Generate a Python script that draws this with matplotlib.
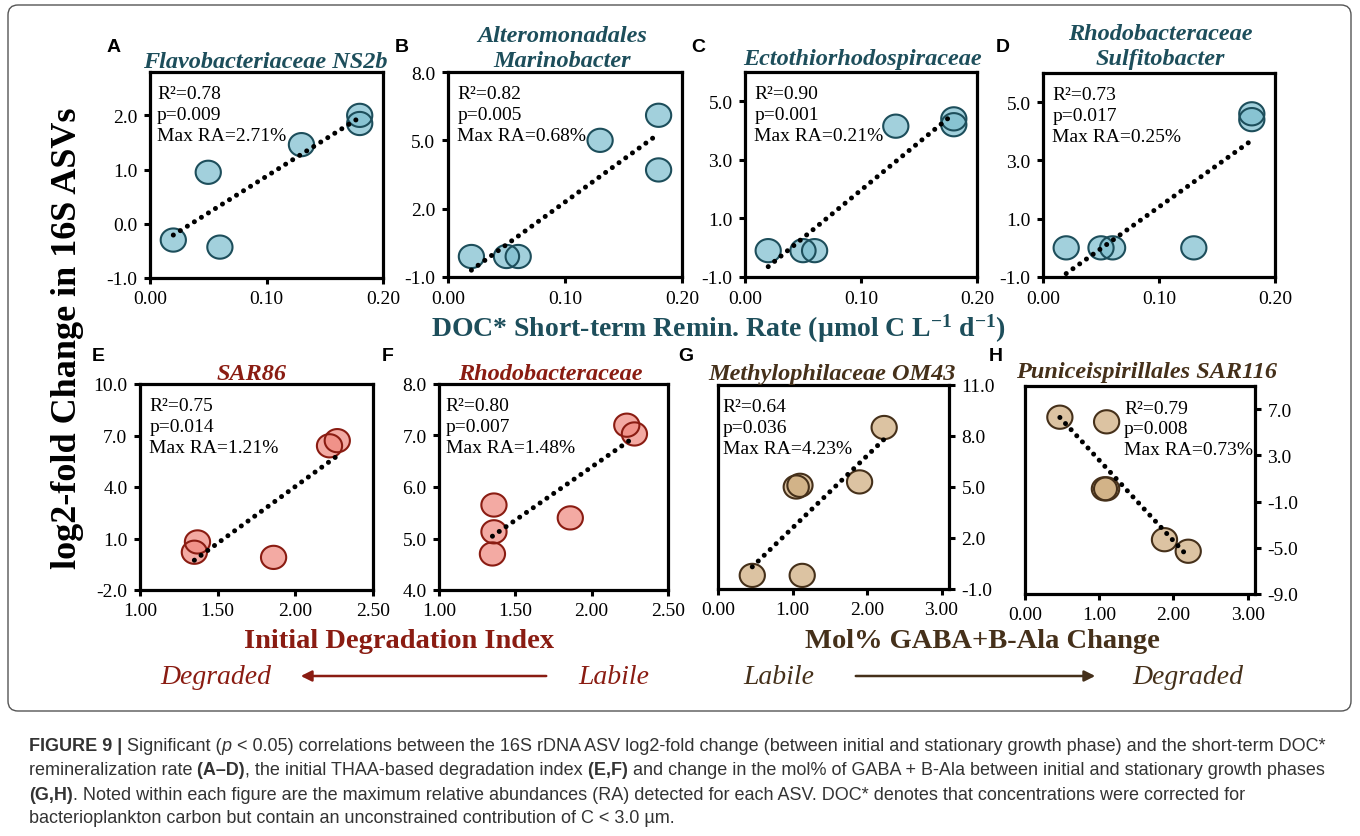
import numpy as np
import matplotlib
matplotlib.use('Agg')
import matplotlib.pyplot as plt
from matplotlib.patches import FancyBboxPatch
from matplotlib.path import Path

plt.rcParams['font.family'] = 'Liberation Serif'
plt.rcParams['mathtext.fontset'] = 'custom'
plt.rcParams['mathtext.rm'] = 'Liberation Serif'
plt.rcParams['mathtext.bf'] = 'Liberation Serif:bold'
plt.rcParams['mathtext.it'] = 'Liberation Serif:italic'

W, H = 1360, 837

# ---- data ----
doc_rate = [0.02, 0.05, 0.06, 0.13, 0.18, 0.18]
a_fold = [-0.3, 0.95, -0.43, 1.46, 2.0, 1.85]
b_fold = [-0.1, -0.1, -0.1, 5.0, 6.1, 3.7]
c_fold = [-0.1, -0.1, -0.1, 4.15, 4.4, 4.2]
d_fold = [0.0, 0.0, 0.0, 0.0, 4.6, 4.4]

e_index = [1.35, 1.37, 1.86, 2.22, 2.27]
e_fold = [0.2, 0.8, -0.1, 6.4, 6.7]
f_index = [1.36, 1.36, 1.35, 1.86, 2.23, 2.28]
f_fold = [5.65, 5.13, 4.7, 5.4, 7.2, 7.03]

g_gaba = [0.46, 1.13, 1.05, 1.1, 1.9, 2.23]
g_fold = [-0.2, -0.2, 5.0, 5.1, 5.3, 8.5]
h_gaba = [0.47, 1.1, 1.07, 1.1, 1.88, 2.2]
h_fold = [6.3, 5.9, 0.1, 0.1, -4.3, -5.3]

stats = ["R²=0.78\np=0.009\nMax RA=2.71%", "R²=0.82\np=0.005\nMax RA=0.68%",
         "R²=0.90\np=0.001\nMax RA=0.21%", "R²=0.73\np=0.017\nMax RA=0.25%",
         "R²=0.75\np=0.014\nMax RA=1.21%", "R²=0.80\np=0.007\nMax RA=1.48%",
         "R²=0.64\np=0.036\nMax RA=4.23%", "R²=0.79\np=0.008\nMax RA=0.73%"]
titles = ["Flavobacteriaceae NS2b", "Alteromonadales\nMarinobacter",
          "Ectothiorhodospiraceae", "Rhodobacteraceae\nSulfitobacter",
          "SAR86", "Rhodobacteraceae", "Methylophilaceae OM43",
          "Puniceispirillales SAR116"]
letters = ["A", "B", "C", "D", "E", "F", "G", "H"]

# colours
teal, teal_fill = '#1d4e5b', '#7fbfcf'
red, red_fill = '#8a1c12', '#ef8a80'
brown, brown_fill = '#45301a', '#cfad7e'

fig = plt.figure(figsize=(W / 100, H / 100), dpi=100)

# outer rounded frame
frame = FancyBboxPatch((8, H - 712), 1343, 706, boxstyle='round,pad=0,rounding_size=10',
                       transform=None, fill=False, ec='#555555', lw=1.0)
fig.patches.append(frame)

# slightly flattened circle, like the original markers
t = np.linspace(0, 2 * np.pi, 64)
ellipse = Path(np.column_stack([np.cos(t), 0.92 * np.sin(t)]), closed=True)


def px_axes(l, r, t, b):
    return fig.add_axes([l / W, 1 - b / H, (r - l) / W, (b - t) / H])


panels = [
    # x, y, box(l, r, t, b), xlim, xticks, ylim, yticks, colours, right axis, stats x
    (doc_rate, a_fold, (150, 383, 73, 279), (0, 0.2), [0, 0.1, 0.2], (-1, 2.8), [-1, 0, 1, 2], teal, teal_fill, False, 0.03),
    (doc_rate, b_fold, (448, 682, 73, 278), (0, 0.2), [0, 0.1, 0.2], (-1, 8), [-1, 2, 5, 8], teal, teal_fill, False, 0.04),
    (doc_rate, c_fold, (745, 977, 73, 278), (0, 0.2), [0, 0.1, 0.2], (-1, 6), [-1, 1, 3, 5], teal, teal_fill, False, 0.04),
    (doc_rate, d_fold, (1043, 1275, 74, 278), (0, 0.2), [0, 0.1, 0.2], (-1, 6), [-1, 1, 3, 5], teal, teal_fill, False, 0.04),
    (e_index, e_fold, (140, 373, 385, 591), (1, 2.5), [1, 1.5, 2, 2.5], (-2, 10), [-2, 1, 4, 7, 10], red, red_fill, False, 0.04),
    (f_index, f_fold, (439, 668, 385, 591), (1, 2.5), [1, 1.5, 2, 2.5], (4, 8), [4, 5, 6, 7, 8], red, red_fill, False, 0.03),
    (g_gaba, g_fold, (718, 949, 386, 590), (0, 3.1), [0, 1, 2, 3], (-1, 11), [-1, 2, 5, 8, 11], brown, brown_fill, True, 0.02),
    (h_gaba, h_fold, (1025, 1255, 387, 595), (0, 3.1), [0, 1, 2, 3], (-9, 9), [-9, -5, -1, 3, 7], brown, brown_fill, True, 0.43),
]

for i, (xs, ys, box, xl, xt, yl, yt, ec, fc, right, sx) in enumerate(panels):
    ax = px_axes(*box)
    xs = np.array(xs)
    ys = np.array(ys)
    ax.scatter(xs, ys, s=330, marker=ellipse, facecolor=fc, edgecolor='none', alpha=0.72,
               zorder=3, clip_on=False)
    ax.scatter(xs, ys, s=330, marker=ellipse, facecolor='none', edgecolor=ec, linewidth=1.5,
               zorder=3, clip_on=False)
    k, c0 = np.polyfit(xs, ys, 1)
    lx = np.array([xs.min(), xs.max()])
    ax.plot(lx, k * lx + c0, color='black', lw=3.6, ls=(0, (0.01, 1.65)),
            dash_capstyle='round', zorder=4)
    ax.set_xlim(*xl)
    ax.set_ylim(*yl)
    ax.set_xticks(xt)
    ax.set_yticks(yt)
    ax.xaxis.set_major_formatter(matplotlib.ticker.FormatStrFormatter('%.2f'))
    ax.yaxis.set_major_formatter(matplotlib.ticker.FormatStrFormatter('%.1f'))
    if right:
        ax.yaxis.tick_right()
    for sp in ax.spines.values():
        sp.set_linewidth(2.3)
        sp.set_color('black')
    ax.tick_params(direction='out', length=4, width=2.2, labelsize=14, pad=5)
    ax.text(sx, 0.935, stats[i], transform=ax.transAxes, ha='left', va='top',
            fontsize=14, linespacing=1.3, zorder=5)

# panel letters
letter_pos = [(114, 47), (402, 47), (698, 48), (1003, 48),
              (98, 357), (388, 357), (686, 357), (996, 357)]
for lt, (x, y) in zip(letters, letter_pos):
    fig.text(x / W, 1 - y / H, lt, family='Liberation Sans', weight='bold',
             fontsize=14, ha='center', va='center')

# panel titles
title_pos = [(265, 63, teal), (562, 49, teal), (862, 60, teal), (1160, 47, teal),
             (252, 374, red), (550, 374, red), (832, 375, brown), (1147, 373, brown)]
for tt, (x, y, col) in zip(titles, title_pos):
    fig.text(x / W, 1 - y / H, tt, color=col, weight='bold', style='italic',
             fontsize=17.5, ha='center', va='center', linespacing=1.25)

# axis titles
fig.text(68 / W, 1 - 338 / H, 'log2-fold Change in 16S ASVs', rotation=90,
         weight='bold', fontsize=26, ha='center', va='center')
fig.text(719 / W, 1 - 329 / H,
         r'DOC* Short-term Remin. Rate (µmol C L$^{\mathbf{-1}}$ d$^{\mathbf{-1}}$)',
         color=teal, weight='bold', fontsize=20, ha='center', va='center')
fig.text(399 / W, 1 - 642 / H, 'Initial Degradation Index', color=red,
         weight='bold', fontsize=20.5, ha='center', va='center')
fig.text(982 / W, 1 - 642 / H, 'Mol% GABA+B-Ala Change', color=brown,
         weight='bold', fontsize=20.5, ha='center', va='center')

# labile / degraded arrows
fig.text(216 / W, 1 - 677 / H, 'Degraded', color=red, style='italic', fontsize=20,
         ha='center', va='center')
fig.text(614 / W, 1 - 677 / H, 'Labile', color=red, style='italic', fontsize=20,
         ha='center', va='center')
fig.text(779 / W, 1 - 677 / H, 'Labile', color=brown, style='italic', fontsize=20,
         ha='center', va='center')
fig.text(1188 / W, 1 - 677 / H, 'Degraded', color=brown, style='italic', fontsize=20,
         ha='center', va='center')
ov = fig.add_axes([0, 0, 1, 1])
ov.set_xlim(0, W)
ov.set_ylim(H, 0)
ov.axis('off')
ov.annotate('', xy=(298, 677), xytext=(549, 677),
            arrowprops=dict(arrowstyle='-|>', color=red, lw=1.8, mutation_scale=16))
ov.annotate('', xy=(1098, 677), xytext=(853, 677),
            arrowprops=dict(arrowstyle='-|>', color=brown, lw=1.8, mutation_scale=16))

# caption, pieced together so the bold / italic bits keep one baseline
cap_size = 13
cap_lines = [
    (751, [("FIGURE 9 |", 'bold', 'normal'), (" Significant (", 'normal', 'normal'),
           ("p", 'normal', 'italic'),
           (" < 0.05) correlations between the 16S rDNA ASV log2-fold change (between initial and stationary growth phase) and the short-term DOC*", 'normal', 'normal')]),
    (775, [("remineralization rate", 'normal', 'normal'), (" (A–D)", 'bold', 'normal'),
           (", the initial THAA-based degradation index", 'normal', 'normal'),
           (" (E,F)", 'bold', 'normal'),
           (" and change in the mol% of GABA + B-Ala between initial and stationary growth phases", 'normal', 'normal')]),
    (800, [("(G,H)", 'bold', 'normal'),
           (". Noted within each figure are the maximum relative abundances (RA) detected for each ASV. DOC* denotes that concentrations were corrected for", 'normal', 'normal')]),
    (823, [("bacterioplankton carbon but contain an unconstrained contribution of C < 3.0 µm.", 'normal', 'normal')]),
]
renderer = fig.canvas.get_renderer()
for y, parts in cap_lines:
    x = 29
    for txt, wt, st in parts:
        tx = ov.text(x, y, txt, family='Liberation Sans', weight=wt, style=st,
                     fontsize=cap_size, color='#333333', va='baseline', ha='left')
        bb = tx.get_window_extent(renderer)
        x += bb.width

fig.savefig('out.png', dpi=100)
